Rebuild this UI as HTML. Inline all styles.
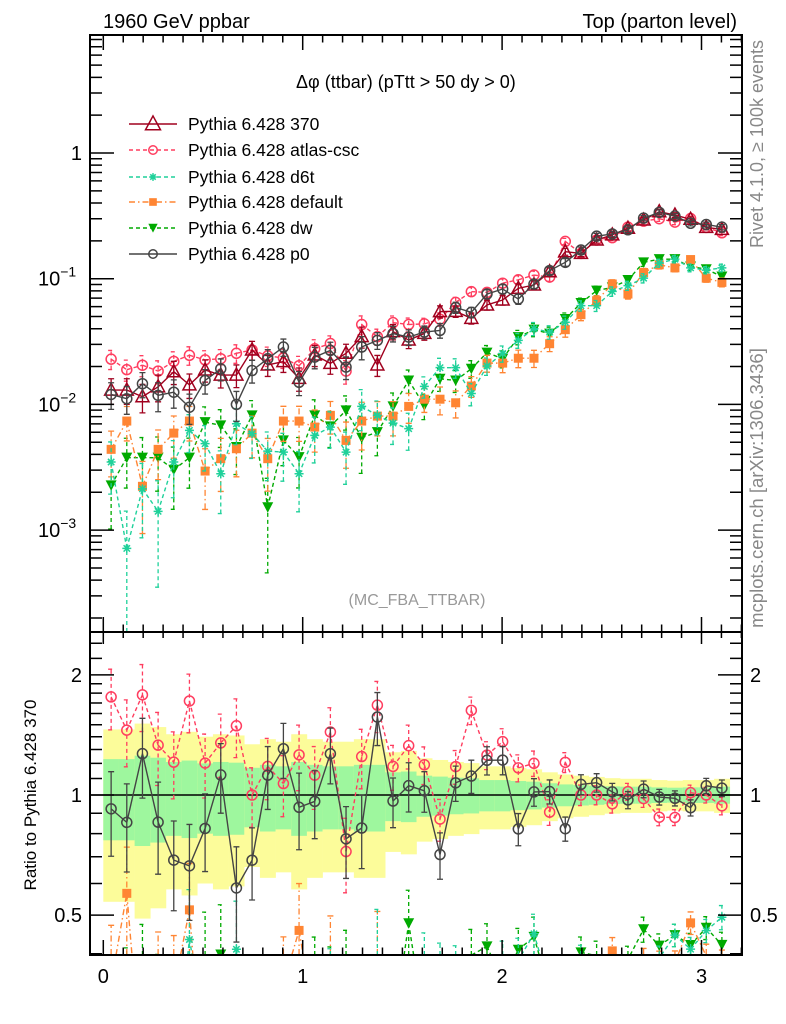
<!DOCTYPE html>
<html><head><meta charset="utf-8"><style>
html,body{margin:0;padding:0;background:#fff;overflow:hidden;width:786px;height:1024px}
svg{display:block}
text{font-family:"Liberation Sans",Arial,sans-serif}
</style></head><body>
<svg id="chart" width="786" height="1024" viewBox="0 0 786 1024" xmlns="http://www.w3.org/2000/svg">
<defs>
<clipPath id="clipMain"><rect x="90" y="35" width="652" height="597"/></clipPath>
<clipPath id="clipRatio"><rect x="90" y="632" width="652" height="323"/></clipPath>
</defs>
<rect x="0" y="0" width="786" height="1024" fill="#fff"/>
<text x="103" y="28" font-size="20">1960 GeV ppbar</text>
<text x="737" y="28" font-size="20" text-anchor="end">Top (parton level)</text>
<text x="296" y="88" font-size="18">Δφ (ttbar) (pTtt &gt; 50 dy &gt; 0)</text>
<text transform="translate(763,144) rotate(-90)" font-size="18" fill="#888" text-anchor="middle">Rivet 4.1.0, ≥ 100k events</text>
<text transform="translate(763,488) rotate(-90)" font-size="18.5" fill="#888" text-anchor="middle">mcplots.cern.ch [arXiv:1306.3436]</text>
<text x="417" y="605" font-size="16" fill="#999" text-anchor="middle">(MC_FBA_TTBAR)</text>
<text transform="translate(36,795) rotate(-90)" font-size="17" text-anchor="middle">Ratio to Pythia 6.428 370</text>
<g id="bands" clip-path="url(#clipRatio)"></g>
<g id="mainG" clip-path="url(#clipMain)"></g>
<g id="ratioG" clip-path="url(#clipRatio)"></g>
<g id="axes"></g>
<g id="legend"></g>
</svg>
<script>
// ---- data ----
const nBins = 40;
const seriesNames = ["Pythia 6.428 370","Pythia 6.428 atlas-csc","Pythia 6.428 d6t","Pythia 6.428 default","Pythia 6.428 dw","Pythia 6.428 p0"];
const v370 = [0.0130,0.0130,0.0115,0.0138,0.0182,0.0143,0.0188,0.0171,0.0171,0.0271,0.0206,0.0219,0.0161,0.0247,0.0212,0.0255,0.0346,0.0206,0.0379,0.0325,0.0367,0.0547,0.055,0.0484,0.0618,0.0677,0.0838,0.0891,0.1137,0.164,0.159,0.203,0.223,0.252,0.293,0.341,0.321,0.297,0.256,0.247];
const vAtlas = [0.0229,0.0189,0.0205,0.0184,0.0220,0.0246,0.0226,0.0231,0.0255,0.0271,0.0243,0.0234,0.0203,0.0277,0.0305,0.0184,0.0432,0.0346,0.0447,0.0432,0.0437,0.0476,0.0648,0.0789,0.0778,0.0921,0.098,0.107,0.103,0.198,0.159,0.203,0.212,0.257,0.287,0.300,0.282,0.301,0.256,0.232];
const vD6t = [0.00348,0.000715,0.00213,0.00141,0.00348,0.00621,0.00487,0.00281,0.00702,0.00585,0.00425,0.00417,0.00281,0.00567,0.0066,0.00417,0.00964,0.00818,0.0071,0.00641,0.0139,0.0196,0.0196,0.0122,0.0202,0.0254,0.0323,0.040,0.0376,0.045,0.061,0.061,0.0792,0.088,0.101,0.133,0.143,0.122,0.117,0.122];
const vDefault = [0.00439,0.00737,0.00223,0.00439,0.00591,0.00737,0.00295,0.0037,0.00444,0.00591,0.0037,0.00737,0.00737,0.0066,0.00818,0.00517,0.00737,0.00807,0.00807,0.00964,0.011,0.011,0.0103,0.014,0.0213,0.0213,0.0233,0.0233,0.0304,0.0393,0.0517,0.0668,0.0907,0.0755,0.112,0.129,0.122,0.142,0.101,0.0935];
const vDw = [0.00227,0.00377,0.00377,0.00377,0.00302,0.00377,0.00723,0.00681,0.00458,0.00818,0.00152,0.00517,0.00381,0.00818,0.00668,0.00896,0.00543,0.00602,0.00964,0.0155,0.0098,0.016,0.0155,0.0192,0.0258,0.0231,0.0343,0.0393,0.0366,0.0478,0.0641,0.0803,0.0853,0.0976,0.135,0.143,0.143,0.125,0.119,0.104];
const vP0 = [0.0120,0.0111,0.0146,0.0118,0.0125,0.0095,0.0155,0.0192,0.0100,0.0186,0.0231,0.0286,0.0150,0.0238,0.0269,0.0198,0.0286,0.0323,0.0366,0.0343,0.0376,0.0388,0.059,0.054,0.0755,0.0828,0.0689,0.0907,0.116,0.135,0.169,0.218,0.227,0.245,0.303,0.337,0.315,0.276,0.270,0.257];
const relErr370 = [0.23,0.23,0.255,0.24,0.21,0.22,0.20,0.21,0.205,0.17,0.19,0.18,0.21,0.19,0.18,0.18,0.19,0.19,0.14,0.145,0.118,0.112,0.105,0.101,0.09,0.09,0.084,0.08,0.07,0.063,0.059,0.055,0.051,0.049,0.049,0.045,0.043,0.045,0.045,0.049];
const xTickLabels = ["0","1","2","3"];
const yTickDecades = [0,-1,-2,-3];
const ratioTickLabels = ["2","1","0.5"];
const ratioTickValues = [2,1,0.5];

// ---- scales ----
const NS="http://www.w3.org/2000/svg";
const X0=103.3, XS=199.4;
const MAIN_TOP=35, MAIN_BOT=632, R_TOP=632, R_BOT=955;
function xs(v){return X0+XS*v;}
function ys(v){return 153-125.7*Math.log10(v);}
function rs(r){return 795-399*Math.log10(r);}
const binW=Math.PI/nBins;
function bc(i){return (i+0.5)*binW;}
function mk(tag,attrs,parent){const e=document.createElementNS(NS,tag);for(const k in attrs)e.setAttribute(k,attrs[k]);parent.appendChild(e);return e;}
function clampY(y,t,b){return Math.min(Math.max(y,t),b);}
// clip polyline segments to [top,bottom] in y
function clippedPath(pts,top,bot){
  let d="";
  for(let k=0;k<pts.length-1;k++){
    let [x1,y1]=pts[k],[x2,y2]=pts[k+1];
    if((y1<top&&y2<top)||(y1>bot&&y2>bot))continue;
    const lerp=(yt)=>x1+(x2-x1)*(yt-y1)/(y2-y1);
    let ax=x1,ay=y1,bx=x2,by=y2;
    if(ay>bot){ax=lerp(bot);ay=bot;} else if(ay<top){ax=lerp(top);ay=top;}
    if(by>bot){bx=lerp(bot);by=bot;} else if(by<top){bx=lerp(top);by=top;}
    d+=`M${ax},${ay}L${bx},${by}`;
  }
  return d;
}

const styles=[
 {vals:v370,color:"#a0001e",dash:"",marker:"tri",name:"series-370"},
 {vals:vAtlas,color:"#ff3d5f",dash:"4,3",marker:"circ",name:"series-atlas-csc"},
 {vals:vD6t,color:"#1fd19a",dash:"4,3",marker:"star",name:"series-d6t"},
 {vals:vDefault,color:"#ff8533",dash:"6,3,1.5,3",marker:"sq",name:"series-default"},
 {vals:vDw,color:"#00aa00",dash:"4,3",marker:"dtri",name:"series-dw"},
 {vals:vP0,color:"#444444",dash:"",marker:"circ",name:"series-p0"}
];

function marker(g,type,x,y,c,s){
  s=s||1;let e;
  if(type==="tri"){e=mk("path",{d:`M${x},${y-7*s}L${x+6.5*s},${y+5*s}L${x-6.5*s},${y+5*s}Z`,fill:"#fff","fill-opacity":"0",stroke:c,"stroke-width":1.5},g);}
  else if(type==="circ"){e=mk("circle",{cx:x,cy:y,r:5*s,fill:"none",stroke:c,"stroke-width":1.5},g);}
  else if(type==="sq"){e=mk("rect",{x:x-4.5*s,y:y-4.5*s,width:9*s,height:9*s,fill:c},g);}
  else if(type==="dtri"){e=mk("path",{d:`M${x-5.5*s},${y-5*s}L${x+5.5*s},${y-5*s}L${x},${y+5.5*s}Z`,fill:c},g);}
  else {let d="";for(let k=0;k<4;k++){const a=k*Math.PI/4;const dx=4.5*s*Math.cos(a),dy=4.5*s*Math.sin(a);d+=`M${x-dx},${y-dy}L${x+dx},${y+dy}`;}
    e=mk("path",{d:d,stroke:c,"stroke-width":1.5,fill:"none"},g);}
  return e;
}

// ---- bands ----
const bandG=document.getElementById("bands");
for(let i=0;i<nBins;i++){
  const e=relErr370[i];const xa=xs(i*binW),xb=xs((i+1)*binW);
  const yt=clampY(rs(1+2*e),R_TOP,R_BOT), ybt=clampY(rs(Math.max(1-2*e,0.05)),R_TOP,R_BOT);
  const yb=mk("rect",{x:xa,y:yt,width:xb-xa+0.3,height:ybt-yt,fill:"#fcfc9a"},bandG);
  
  
  const gb=mk("rect",{x:xa,y:rs(1+e),width:xb-xa+0.3,height:rs(1-e)-rs(1+e),fill:"#9ef79e"},bandG);
  
  
}
const unity=mk("line",{x1:90,x2:742,y1:rs(1),y2:rs(1),stroke:"#000","stroke-width":1.5},bandG);



// ---- main + ratio series ----
const mainG=document.getElementById("mainG"), ratioG=document.getElementById("ratioG");
const drawOrder=[4,3,2,1,0,5];
drawOrder.forEach(si=>{
  const st=styles[si];
  const relErr=st.vals.map((v,i)=>relErr370[i]*Math.sqrt(v370[i]/v));
  const g=mk("g",{},mainG);
  
  
  const mpts=st.vals.map((v,i)=>[xs(bc(i)),ys(v)]);
  mk("path",{d:clippedPath(mpts,MAIN_TOP,MAIN_BOT),fill:"none",stroke:st.color,"stroke-width":1.4,"stroke-dasharray":st.dash},g);
  st.vals.forEach((v,i)=>{
    const x=xs(bc(i));
    const yLo=clampY(ys(Math.max(v*(1-relErr[i]),1e-6)),MAIN_TOP,MAIN_BOT);
    const yHi=clampY(ys(v*(1+relErr[i])),MAIN_TOP,MAIN_BOT);
    const yc=ys(v);
    let d=`M${x},${yLo}V${yHi}M${x-3},${yHi}h6`;
    if(yLo<MAIN_BOT)d+=`M${x-3},${yLo}h6`;
    mk("path",{d:d,stroke:st.color,"stroke-width":1.3,"stroke-dasharray":st.dash,fill:"none"},g);
    if(yc>=MAIN_TOP&&yc<=MAIN_BOT){
      const m=marker(g,st.marker,x,yc,st.color);
      
      
    }
  });
  if(si===0)return;
  const rg=mk("g",{},ratioG);
  
  
  const rat=st.vals.map((v,i)=>v/v370[i]);
  const rpts=rat.map((r,i)=>[xs(bc(i)),rs(r)]);
  mk("path",{d:clippedPath(rpts,R_TOP,R_BOT),fill:"none",stroke:st.color,"stroke-width":1.4,"stroke-dasharray":st.dash},rg);
  rat.forEach((r,i)=>{
    const x=xs(bc(i));
    const yLo=clampY(rs(Math.max(r*(1-relErr[i]),0.01)),R_TOP,R_BOT);
    const yHi=clampY(rs(r*(1+relErr[i])),R_TOP,R_BOT);
    if(yLo===yHi)return;
    let d=`M${x},${yLo}V${yHi}`;
    if(yHi>R_TOP)d+=`M${x-3},${yHi}h6`;
    if(yLo<R_BOT)d+=`M${x-3},${yLo}h6`;
    mk("path",{d:d,stroke:st.color,"stroke-width":1.3,"stroke-dasharray":st.dash,fill:"none"},rg);
    const yc=rs(r);
    if(yc>=R_TOP&&yc<=R_BOT){
      const m=marker(rg,st.marker,x,yc,st.color);
      
      
    }
  });
});

// ---- axes ----
const ax=document.getElementById("axes");
mk("rect",{x:90,y:35,width:652,height:597,fill:"none",stroke:"#000","stroke-width":2},ax);
mk("rect",{x:90,y:632,width:652,height:323,fill:"none",stroke:"#000","stroke-width":2},ax);
let td="";
for(let k=0;k<=32;k++){const v=k/10;const x=xs(v);const major=(k%10===0);
  if(x>742)break;
  const L=major?15:7.5;
  td+=`M${x},35v${L}M${x},632v${-L}M${x},632v${L*0.8}M${x},955v${-L}`;}
for(let d=-4;d<=0;d++){for(let m=1;m<=9;m++){const v=m*Math.pow(10,d);const y=ys(v);if(y<35||y>632)continue;
  const L=(m===1)?24:12;td+=`M90,${y}h${L}M742,${y}h${-L}`;}}
const rt=[0.4,0.5,0.6,0.7,0.8,0.9,1,1.1,1.2,1.3,1.4,1.5,1.6,1.7,1.8,1.9,2,2.2,2.4];
rt.forEach(r=>{const y=rs(r);if(y<632||y>955)return;const major=(r===0.5||r===1||r===2);const L=major?24:12;td+=`M90,${y}h${L}M742,${y}h${-L}`;});
mk("path",{d:td,stroke:"#000","stroke-width":1.5,fill:"none"},ax);

xTickLabels.forEach((t,i)=>{const e=mk("text",{x:xs(i),y:983,"font-size":20,"text-anchor":"middle"},ax);e.textContent=t;
  
  });
yTickDecades.forEach(d=>{const y=ys(Math.pow(10,d));
  const e=mk("text",{x:82,y:y+7,"font-size":20,"text-anchor":"end"},ax);
  
  
  if(d===0){e.textContent="1";}
  else{e.setAttribute("x",38);e.setAttribute("text-anchor","start");e.textContent="10";
    const s=mk("tspan",{dy:-9,"font-size":14},e);s.textContent="−"+(-d);}
});
ratioTickValues.forEach((v,i)=>{const y=rs(v)+7;
  const a=mk("text",{x:82,y:y,"font-size":20,"text-anchor":"end"},ax);a.textContent=ratioTickLabels[i];
  
  
  const b=mk("text",{x:750,y:y,"font-size":20},ax);b.textContent=ratioTickLabels[i];
  
  
});

// ---- legend ----
const lg=document.getElementById("legend");
const legY=[124,150,177,202,228,254];
styles.forEach((st,i)=>{
  const g=mk("g",{},lg);
  
  
  mk("line",{x1:129,x2:177,y1:legY[i],y2:legY[i],stroke:st.color,"stroke-width":1.4,"stroke-dasharray":st.dash},g);
  marker(g,st.marker,153,legY[i],st.color,i===0?1.15:0.85);
  const t=mk("text",{x:188,y:legY[i]+6,"font-size":17.5},g);t.textContent=seriesNames[i];
});
</script>
</body></html>
